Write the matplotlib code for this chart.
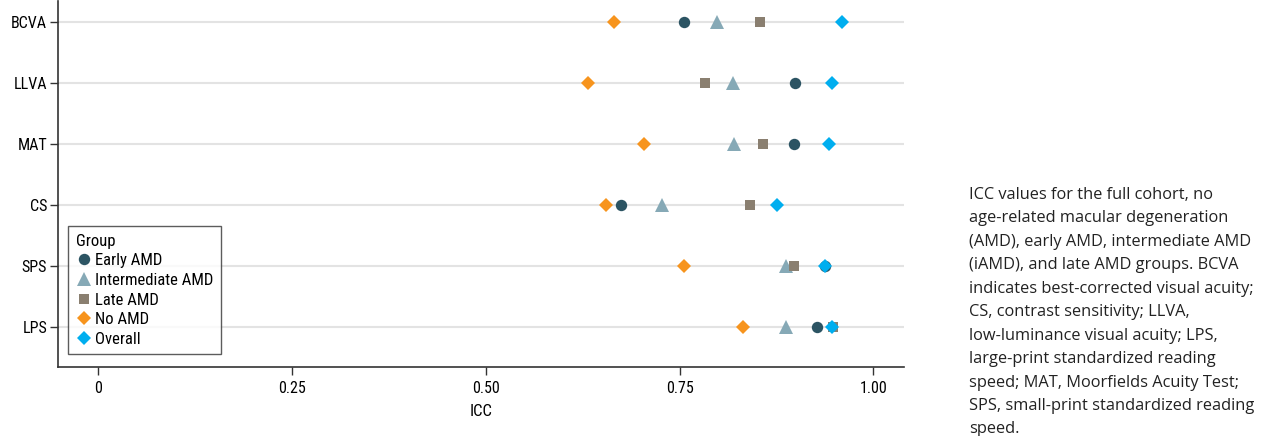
import numpy as np
import matplotlib.pyplot as plt
from matplotlib import font_manager

# Measures (top to bottom) and ICC values per group
measures = ["BCVA", "LLVA", "MAT", "CS", "SPS", "LPS"]
early_amd = [0.755, 0.899, 0.897, 0.674, 0.938, 0.927]
intermediate_amd = [0.798, 0.819, 0.820, 0.727, 0.887, 0.887]
late_amd = [0.854, 0.782, 0.857, 0.841, 0.898, 0.948]
no_amd = [0.665, 0.631, 0.704, 0.655, 0.755, 0.832]
overall = [0.960, 0.946, 0.943, 0.875, 0.938, 0.947]

xticks = [0, 0.25, 0.50, 0.75, 1.00]
xtick_labels = ["0", "0.25", "0.50", "0.75", "1.00"]

caption = ("ICC values for the full cohort, no\n"
           "age-related macular degeneration\n"
           "(AMD), early AMD, intermediate AMD\n"
           "(iAMD), and late AMD groups. BCVA\n"
           "indicates best-corrected visual acuity;\n"
           "CS, contrast sensitivity; LLVA,\n"
           "low-luminance visual acuity; LPS,\n"
           "large-print standardized reading\n"
           "speed; MAT, Moorfields Acuity Test;\n"
           "SPS, small-print standardized reading\n"
           "speed.")

names = {f.name for f in font_manager.fontManager.ttflist}
narrow = "Roboto"
for cand in ["Roboto Condensed", "Liberation Sans Narrow", "Open Sans Condensed"]:
    if cand in names:
        narrow = cand
        break
plt.rcParams['font.family'] = [narrow, 'DejaVu Sans']

fig = plt.figure(figsize=(12.65, 4.36), dpi=100)
ax = fig.add_axes([0.046, 0.158, 0.669, 0.840])

y = np.arange(len(measures))
for yi in y:
    ax.axhline(yi, color='#e3e3e3', lw=1.5, zorder=0)

groups = [
    ("Early AMD", early_amd, 'o', '#2c5463', 8.2),
    ("Intermediate AMD", intermediate_amd, '^', '#86a9b6', 9.5),
    ("Late AMD", late_amd, 's', '#8a7f70', 7.7),
    ("No AMD", no_amd, 'D', '#f7941d', 7.5),
    ("Overall", overall, 'D', '#00aeef', 7.5),
]
for name, vals, marker, color, size in groups:
    ax.plot(vals, y, linestyle='none', marker=marker, color=color,
            markersize=size, markeredgewidth=0, label=name, zorder=3)

ax.set_ylim(5.66, -0.35)
ax.set_xlim(-0.052, 1.04)
ax.set_yticks(y)
ax.set_yticklabels(measures, fontsize=11.5)
ax.set_xticks(xticks)
ax.set_xticklabels(xtick_labels, fontsize=11.5)
ax.tick_params(axis='both', length=6, width=1, color='#333333')
ax.tick_params(axis='y', pad=2)
ax.tick_params(axis='x', pad=4)
ax.set_xlabel("ICC", fontsize=12, labelpad=6)

for side in ['top', 'right']:
    ax.spines[side].set_visible(False)
for side in ['left', 'bottom']:
    ax.spines[side].set_color('#333333')
    ax.spines[side].set_linewidth(1.2)

leg = ax.legend(title="Group", loc='lower left', bbox_to_anchor=(0.002, 0.012),
                fontsize=12, title_fontsize=12, frameon=True, fancybox=False,
                handletextpad=0.15, borderpad=0.45, labelspacing=0.28,
                handlelength=1.0, edgecolor='#333333', alignment='left')
leg.get_frame().set_linewidth(1.0)

fig.text(0.766, 0.571, caption, fontsize=11.8, family='Open Sans',
         color='#222222', va='top', ha='left', linespacing=1.62)

fig.savefig("out.png", dpi=100)
